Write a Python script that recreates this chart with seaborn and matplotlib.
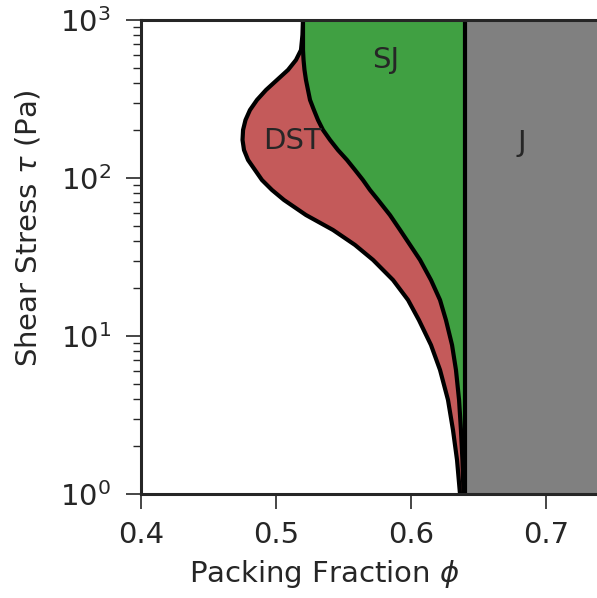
import matplotlib
matplotlib.use("Agg")
import matplotlib.pyplot as plt
import seaborn as sns
import numpy as np
import pandas as pd

# Shear stress levels (Pa) at which the boundaries were read
sigma = [1000, 803.5, 645.7, 558.5, 483, 417, 360.6, 311.9, 269.2, 232.8,
         201.4, 174.2, 150.3, 130, 112.5, 97.1, 84, 72.6, 58.3, 46.9,
         37.7, 30.3, 22.6, 16.9, 12.6, 8.77, 6.10, 3.94, 2.54, 1.64, 1]

# Shear-jamming boundary phi_J(sigma)
phi_sj = [0.5200, 0.5200, 0.5200, 0.5204, 0.5211, 0.5222, 0.5237, 0.5252,
          0.5281, 0.5311, 0.5348, 0.5400, 0.5459, 0.5526, 0.5585, 0.5644,
          0.5696, 0.5756, 0.5844, 0.5919, 0.5993, 0.6067, 0.6148, 0.6215,
          0.6259, 0.6304, 0.6333, 0.6356, 0.6370, 0.6381, 0.6389]

# Discontinuous shear thickening boundary
phi_dst = [0.5200, 0.5196, 0.5185, 0.5148, 0.5089, 0.5007, 0.4926, 0.4859,
           0.4807, 0.4774, 0.4756, 0.4752, 0.4763, 0.4793, 0.4844, 0.4896,
           0.4970, 0.5059, 0.5222, 0.5422, 0.5585, 0.5719, 0.5867, 0.5978,
           0.6059, 0.6148, 0.6215, 0.6274, 0.6311, 0.6341, 0.6363]

phi_j = 0.64
region_labels = ["DST", "SJ", "J"]
label_phi = [0.512, 0.581, 0.682]
label_sigma = [172, 560, 167]

xticks = [0.4, 0.5, 0.6, 0.7]

sns.set_theme(style="ticks")
plt.rcParams['font.family'] = ['DejaVu Sans']

df = pd.DataFrame({"sigma": sigma, "phi_sj": phi_sj, "phi_dst": phi_dst})

fig = plt.figure(figsize=(5.97, 5.98), dpi=100)
ax = fig.add_axes([141/597, 1 - 494/598, (597 - 141)/597, 474/598])

dark = "#262626"
red = "#C45A5A"
green = "#40A042"
grey = "#808080"

ax.axvspan(phi_j, 1.0, color=grey, lw=0, zorder=1)
ax.fill_betweenx(df["sigma"], df["phi_sj"], phi_j, color=green, lw=0, zorder=1)
ax.fill_betweenx(df["sigma"], df["phi_dst"], df["phi_sj"], color=red, lw=0, zorder=1)

for col in ["phi_dst", "phi_sj"]:
    sns.lineplot(data=df, x=col, y="sigma", sort=False, color="black", lw=3,
                 ax=ax, zorder=3, estimator=None,
                 solid_joinstyle="round", solid_capstyle="butt")
ax.axvline(phi_j, color="black", lw=3, zorder=3)

for t, x, y in zip(region_labels, label_phi, label_sigma):
    ax.text(x, y, t, fontsize=21, color=dark, ha="center", va="center", zorder=4)

ax.set_yscale("log")
ax.set_xlim(0.4, 0.4 + 456/1350)
ax.set_ylim(1, 1000)
ax.set_xticks(xticks)
ax.set_xticklabels([f"{v:.1f}" for v in xticks])

ax.set_xlabel(r"Packing Fraction $\phi$", fontsize=21, color=dark)
ax.set_ylabel(r"Shear Stress $\tau$ (Pa)", fontsize=21, color=dark)
ax.xaxis.set_label_coords(0.401, -0.135)
ax.yaxis.set_label_coords(-0.215, 0.561)

ax.tick_params(axis="both", which="major", labelsize=21, length=11, width=1.2,
               color=dark, labelcolor=dark)
ax.tick_params(axis="x", which="major", pad=8.5)
ax.tick_params(axis="y", which="major", pad=10.5)
ax.tick_params(axis="y", which="minor", length=5.5, width=1.0, color=dark)
ax.tick_params(axis="x", which="minor", length=0)

for s in ["left", "bottom", "top"]:
    ax.spines[s].set_linewidth(2.2)
    ax.spines[s].set_color(dark)
    ax.spines[s].set_zorder(5)
ax.spines["right"].set_visible(False)

fig.savefig("out.png", dpi=100)
